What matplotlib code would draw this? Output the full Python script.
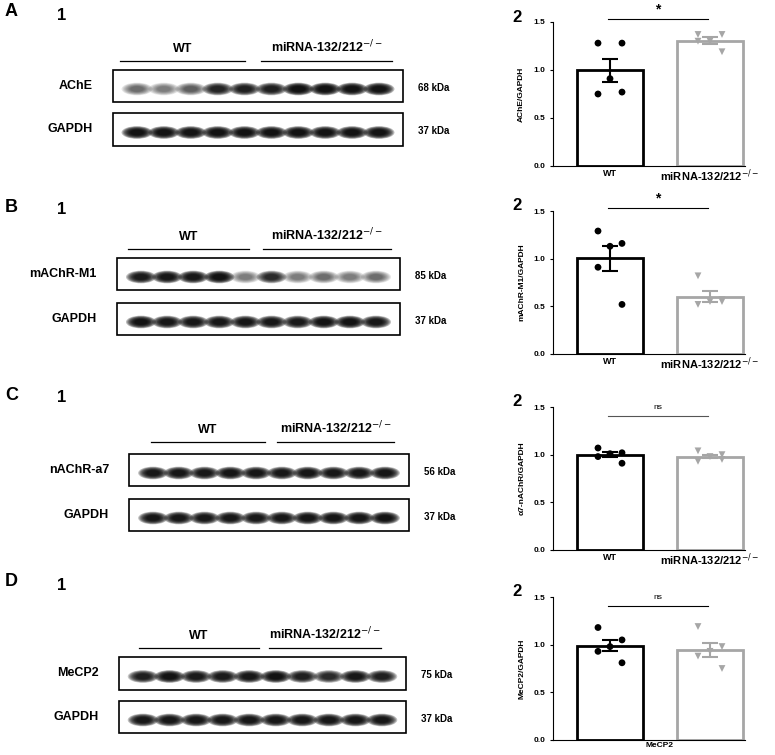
import numpy as np
import matplotlib
matplotlib.use("Agg")
import matplotlib.pyplot as plt
from matplotlib.patches import Ellipse, Rectangle

plt.rcParams['font.family'] = ['Liberation Sans', 'DejaVu Sans']

W, H = 775, 755
groups = ["WT", "miRNA-132/212$^{-/-}$"]
panels = ["A", "B", "C", "D"]
targets = ["AChE", "mAChR-M1", "nAChR-a7", "MeCP2"]
target_kda = ["68 kDa", "85 kDa", "56 kDa", "75 kDa"]
gapdh_kda = "37 kDa"
ylabels = ["AChE/GAPDH", "mAChR-M1/GAPDH", "α7-nAChR/GAPDH", "MeCP2/GAPDH"]
sig = ["*", "*", "ns", "ns"]

# band intensities (10 lanes: 5 WT, 5 KO)
target_bands = [
    [0.35, 0.3, 0.4, 0.75, 0.8, 0.8, 1.0, 1.0, 0.95, 0.95],
    [0.85, 0.9, 0.9, 0.95, 0.3, 0.7, 0.3, 0.35, 0.3, 0.35],
    [0.9, 0.9, 0.88, 0.92, 0.9, 0.9, 0.92, 0.9, 0.9, 0.92],
    [0.8, 0.95, 0.85, 0.85, 0.9, 0.95, 0.8, 0.7, 0.9, 0.8],
]
gapdh_bands = [
    [0.95] * 10,
    [0.95, 0.9, 0.9, 0.9, 0.9, 0.9, 0.85, 0.95, 0.95, 0.9],
    [0.9, 0.88, 0.88, 0.9, 0.88, 0.9, 0.92, 0.92, 0.92, 0.95],
    [0.9] * 10,
]

# quantification values
wt_vals = [
    [1.28, 1.28, 0.91, 0.75, 0.77],
    [1.29, 1.16, 1.13, 0.91, 0.52],
    [1.07, 1.02, 1.01, 0.98, 0.91],
    [1.18, 1.05, 0.98, 0.93, 0.81],
]
ko_vals = [
    [1.37, 1.37, 1.30, 1.30, 1.19],
    [0.82, 0.57, 0.55, 0.52, 0.55],
    [1.04, 1.00, 0.98, 0.93, 0.95],
    [1.19, 0.98, 0.93, 0.88, 0.75],
]

# layout (pixels)
letter_y = [12, 207, 395, 582]
box_x = [(113, 403), (117, 400), (129, 409), (119, 406)]
tbox_y = [(70, 102), (258, 290), (454, 486), (657, 690)]
gbox_y = [(113, 146), (303, 335), (499, 531), (701, 733)]
wt_line = [(120, 245), (128, 249), (151, 265), (139, 259)]
ko_line = [(261, 392), (263, 391), (277, 394), (269, 381)]
line_y = [61, 249, 442, 648]
axis_top = [22, 211, 407, 597]
axis_bot = [166, 354, 550, 740]

fig = plt.figure(figsize=(W / 100, H / 100), dpi=100)
bg = fig.add_axes([0, 0, 1, 1])
bg.set_xlim(0, W); bg.set_ylim(H, 0); bg.axis("off")

def draw_blot(x0, x1, y0, y1, intens):
    bg.add_patch(Rectangle((x0, y0), x1 - x0, y1 - y0, fill=False, lw=1.2, ec="black", zorder=5))
    n = len(intens)
    xs = np.linspace(x0 + 24, x1 - 24, n)
    yc = (y0 + y1) / 2 + 3
    step = xs[1] - xs[0]
    layers = np.linspace(1.15, 0.5, 8)
    for xc, v in zip(xs, intens):
        for s in layers:
            bg.add_patch(Ellipse((xc, yc), step * s, 11 * s, fc="black",
                                 ec="none", alpha=min(1, v * 0.28), lw=0))

for i in range(4):
    bg.text(5, letter_y[i], panels[i], fontsize=13, fontweight="bold", va="center")
    bg.text(57, letter_y[i] + 3, "1", fontsize=12, fontweight="bold", va="center")
    x0, x1 = box_x[i]
    for (a, b), g in zip([wt_line[i], ko_line[i]], groups):
        bg.plot([a, b], [line_y[i], line_y[i]], color="black", lw=0.9)
        bg.text((a + b) / 2, line_y[i] - 9, g, fontsize=9, fontweight="bold", ha="center", va="baseline")
    draw_blot(x0, x1, *tbox_y[i], target_bands[i])
    draw_blot(x0, x1, *gbox_y[i], gapdh_bands[i])
    bg.text(x0 - 20, sum(tbox_y[i]) / 2, targets[i], fontsize=9, fontweight="bold", va="center", ha="right")
    bg.text(x0 - 20, sum(gbox_y[i]) / 2, "GAPDH", fontsize=9, fontweight="bold", va="center", ha="right")
    bg.text(x1 + 15, sum(tbox_y[i]) / 2 + 2, target_kda[i], fontsize=7, fontweight="bold", va="center")
    bg.text(x1 + 15, sum(gbox_y[i]) / 2 + 2, gapdh_kda, fontsize=7, fontweight="bold", va="center")

    bg.text(512, axis_top[i] - 5, "2", fontsize=12, fontweight="bold", va="center")
    ax = fig.add_axes([553 / W, (H - axis_bot[i]) / H, 192 / W, (axis_bot[i] - axis_top[i]) / H])
    ax.set_xlim(-0.57, 1.35); ax.set_ylim(0, 1.5)
    cols = ["black", "#a6a6a6"]
    offs = [-0.12, 0.12, 0.0, -0.12, 0.12]
    for j, (vals, col, mk) in enumerate([(wt_vals[i], cols[0], "o"), (ko_vals[i], cols[1], "v")]):
        v = np.array(vals)
        m = v.mean(); se = v.std(ddof=1) / np.sqrt(len(v))
        ax.bar(j, m, width=0.66, fc="white", ec=col, lw=2, zorder=1)
        ax.errorbar(j, m, yerr=se, color=col, capsize=6, capthick=1.5, lw=1.5, zorder=2)
        ax.scatter(np.array(offs) + j, v, color=col, marker=mk, s=24, zorder=3, edgecolors="none")
    for s in ["top", "right"]:
        ax.spines[s].set_visible(False)
    ax.set_yticks([0, 0.5, 1.0, 1.5])
    ax.set_yticklabels(["0.0", "0.5", "1.0", "1.5"], fontsize=6, fontweight="bold")
    ax.tick_params(axis="y", length=2, width=0.8)
    ax.set_ylabel(ylabels[i], fontsize=6, fontweight="bold", labelpad=6)
    ax.set_xticks([])
    if i < 3:
        ax.text(0, -0.1, "WT", ha="center", va="baseline", fontsize=6.5, fontweight="bold")
        ax.text(1, -0.15, "miRNA-132/212$^{-/-}$", ha="center", va="baseline", fontsize=8, fontweight="bold")
    else:
        ax.text(0.5, -0.02, "MeCP2", ha="center", va="top", fontsize=6, fontweight="bold")
    ly = 1.53 if i < 2 else 1.41
    ax.plot([-0.02, 0.98], [ly, ly], color="black" if i != 2 else "#555555", lw=0.8, clip_on=False)
    ax.text(0.48, ly + (0.03 if sig[i] == "*" else 0.05), sig[i], ha="center", va="bottom",
            fontsize=10 if sig[i] == "*" else 6, fontweight="bold" if sig[i] == "*" else "normal")

fig.savefig("out.png", dpi=100)
